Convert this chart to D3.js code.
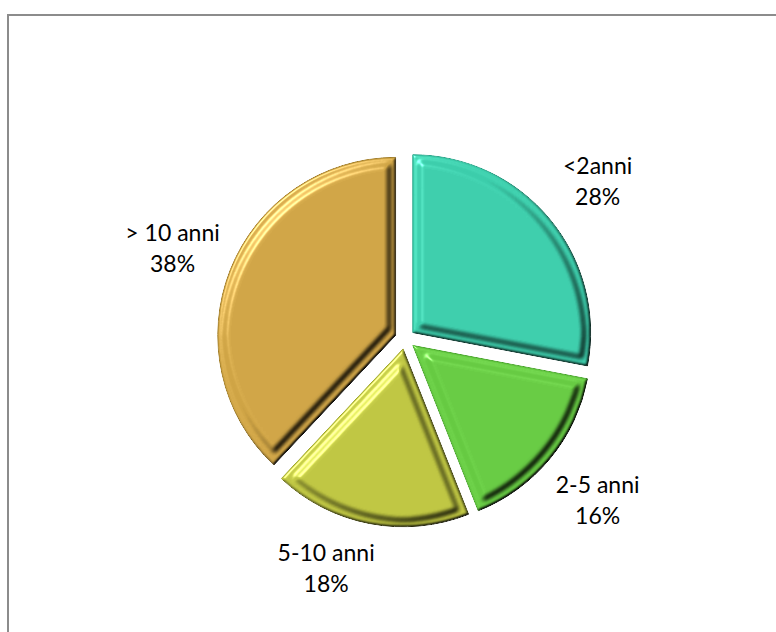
<!DOCTYPE html>
<html>
<head>
<meta charset="utf-8">
<script src="https://cdn.jsdelivr.net/npm/d3@7"></script>
<style>
  body { margin: 0; background: #fff; }
  text { font-family: Lato, "Open Sans", sans-serif; fill: #000; }
</style>
</head>
<body>
<svg width="776" height="632"></svg>
<script>
var categories = ["<2anni", "2-5 anni", "5-10 anni", "> 10 anni"];
var values = [28, 16, 18, 38];
var colors = ["#3ccdab", "#66ca42", "#bec541", "#cfa445"];
var rims = ["#25a286", "#45a428", "#999e26", "#a07c26"];

var svg = d3.select("svg"),
    width = +svg.attr("width"),
    height = +svg.attr("height");

var cx = 405, cy = 339, radius = 178, explode = 10, labelR = 250;
// Excel moved the bottom label in a bit
var labelNudge = { "5-10 anni": [-32, -18] };

// chart frame
svg.append("rect")
  .attr("x", 8).attr("y", 15)
  .attr("width", width + 20).attr("height", height + 20)
  .attr("fill", "none")
  .attr("stroke", "#8c8c8c")
  .attr("stroke-width", 2);

// bevel filter: rim + inset plate, lit from top-left
var defs = svg.append("defs");
var f = defs.append("filter")
  .attr("id", "bevel")
  .attr("x", "-10%").attr("y", "-10%")
  .attr("width", "120%").attr("height", "120%")
  .attr("color-interpolation-filters", "sRGB");
f.append("feMorphology").attr("in", "SourceAlpha").attr("operator", "erode").attr("radius", 7).attr("result", "inner");
f.append("feGaussianBlur").attr("in", "SourceAlpha").attr("stdDeviation", 1.6).attr("result", "bo");
f.append("feGaussianBlur").attr("in", "inner").attr("stdDeviation", 2.2).attr("result", "bi");
f.append("feComposite").attr("in", "bo").attr("in2", "bi").attr("operator", "arithmetic")
  .attr("k1", 0).attr("k2", 0.5).attr("k3", 0.5).attr("k4", 0).attr("result", "hmap");
var dl = f.append("feDiffuseLighting").attr("in", "hmap").attr("surfaceScale", 4)
  .attr("diffuseConstant", 1.4).attr("lighting-color", "#fff").attr("result", "diff");
dl.append("feDistantLight").attr("azimuth", 225).attr("elevation", 45);
var sl = f.append("feSpecularLighting").attr("in", "hmap").attr("surfaceScale", 4)
  .attr("specularConstant", 0.6).attr("specularExponent", 40).attr("lighting-color", "#fff").attr("result", "spec");
sl.append("feDistantLight").attr("azimuth", 225).attr("elevation", 45);
f.append("feComposite").attr("in", "SourceGraphic").attr("in2", "diff").attr("operator", "arithmetic")
  .attr("k1", 1).attr("k2", 0).attr("k3", 0).attr("k4", 0).attr("result", "lit");
f.append("feComposite").attr("in", "lit").attr("in2", "spec").attr("operator", "arithmetic")
  .attr("k1", 0).attr("k2", 1).attr("k3", 0.7).attr("k4", 0).attr("result", "lit2");
f.append("feComposite").attr("in", "lit2").attr("in2", "SourceAlpha").attr("operator", "in");

var pie = d3.pie().sort(null).value(function(d) { return d; });
var arcs = pie(values);

var arc = d3.arc().innerRadius(0).outerRadius(radius);
var labelArc = d3.arc().innerRadius(labelR).outerRadius(labelR);

var g = svg.append("g")
  .attr("transform", "translate(" + cx + "," + cy + ")");

var slice = g.selectAll(".slice")
  .data(arcs)
  .enter().append("g")
  .attr("class", "slice")
  .attr("transform", function(d) {
    var a = (d.startAngle + d.endAngle) / 2;
    return "translate(" + (Math.sin(a) * explode) + "," + (-Math.cos(a) * explode) + ")";
  });

slice.append("path")
  .attr("d", arc)
  .attr("fill", function(d, i) { return colors[i]; })
  .attr("stroke", function(d, i) { return rims[i]; })
  .attr("stroke-width", 1)
  .attr("filter", "url(#bevel)");

// labels
var lab = g.selectAll(".lab")
  .data(arcs)
  .enter().append("text")
  .attr("class", "lab")
  .attr("text-anchor", "middle")
  .attr("font-size", 23)
  .attr("transform", function(d, i) {
    var c = labelArc.centroid(d),
        n = labelNudge[categories[i]] || [0, 0];
    return "translate(" + (c[0] + n[0]) + "," + (c[1] + n[1]) + ")";
  });

lab.append("tspan")
  .attr("x", 0).attr("dy", "-0.25em")
  .text(function(d, i) { return categories[i]; });
lab.append("tspan")
  .attr("x", 0).attr("dy", "1.35em")
  .text(function(d) { return d.data + "%"; });
</script>
</body>
</html>
